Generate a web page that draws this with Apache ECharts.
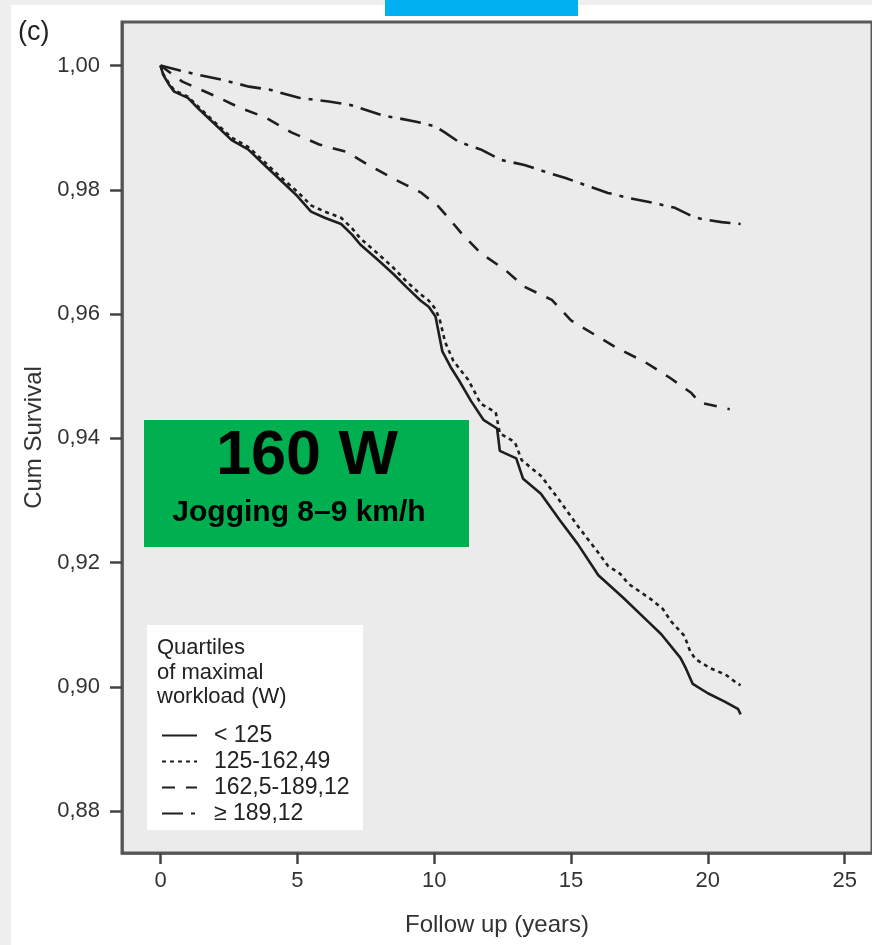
<!DOCTYPE html>
<html>
<head>
<meta charset="utf-8">
<script src="https://cdn.jsdelivr.net/npm/echarts@6/dist/echarts.min.js"></script>
<style>
  html, body { margin: 0; padding: 0; background: #fff; }
  #chart { width: 872px; height: 945px; }
</style>
</head>
<body>
<div id="chart"></div>
<script>
// Follow-up time (years) and cumulative survival per quartile of maximal workload
var groupNames = ['< 125', '125-162,49', '162,5-189,12', '≥ 189,12'];

var tLow = [0, 0.1, 0.3, 0.5, 1.0, 1.4, 2.0, 2.6, 3.2, 3.8, 4.4, 5.0, 5.5, 6.0, 6.6, 7.0, 7.3, 8.0, 8.5, 9.0, 9.5, 9.8, 10.05, 10.3, 10.6, 10.9, 11.35, 11.8, 12.3, 12.4, 13.0, 13.25, 13.9, 14.6, 15.25, 16.0, 16.9, 17.8, 18.3, 19.0, 19.2, 19.45, 20.0, 20.6, 21.1, 21.2];
var sLow = [1.000, 0.9985, 0.9970, 0.9958, 0.9948, 0.9930, 0.9905, 0.9880, 0.9865, 0.9840, 0.9815, 0.9790, 0.9765, 0.9755, 0.9745, 0.9728, 0.9712, 0.9685, 0.9665, 0.9643, 0.9622, 0.9612, 0.9596, 0.9540, 0.9515, 0.9494, 0.9460, 0.9430, 0.9416, 0.9380, 0.9368, 0.9335, 0.9311, 0.9268, 0.9230, 0.9180, 0.9144, 0.9106, 0.9085, 0.9047, 0.9030, 0.9005, 0.8990, 0.8977, 0.8965, 0.8956];

var tMid1 = [0, 0.1, 0.3, 0.5, 1.0, 1.4, 2.0, 2.6, 3.2, 3.8, 4.4, 5.0, 5.5, 6.0, 6.6, 7.0, 7.3, 8.0, 8.5, 9.0, 9.5, 9.8, 10.05, 10.2, 10.4, 10.7, 11.0, 11.25, 11.7, 12.25, 12.4, 12.95, 13.2, 13.9, 14.5, 15.3, 16.0, 16.35, 16.8, 17.1, 17.9, 18.35, 18.65, 19.15, 19.35, 19.55, 20.1, 20.65, 21.1, 21.2];
var sMid1 = [1.000, 0.9986, 0.9972, 0.9960, 0.9950, 0.9933, 0.9908, 0.9884, 0.9869, 0.9845, 0.9820, 0.9797, 0.9775, 0.9765, 0.9755, 0.9738, 0.9722, 0.9695, 0.9675, 0.9652, 0.9632, 0.9622, 0.9608, 0.9592, 0.9555, 0.9525, 0.9508, 0.9494, 0.9456, 0.9442, 0.9408, 0.9394, 0.9365, 0.9340, 0.9305, 0.9256, 0.9216, 0.9195, 0.9182, 0.9166, 0.9142, 0.9126, 0.9106, 0.9082, 0.9058, 0.9045, 0.9030, 0.9020, 0.9005, 0.9003];

var tMid2 = [0, 0.8, 2.04, 2.9, 3.86, 4.8, 5.8, 6.8, 7.6, 8.6, 9.54, 10.16, 10.5, 11.0, 11.7, 12.6, 13.3, 14.3, 15.0, 15.9, 16.7, 17.7, 18.6, 19.4, 19.7, 20.5, 20.8];
var sMid2 = [1.000, 0.9974, 0.9950, 0.9932, 0.9916, 0.9892, 0.9873, 0.9861, 0.9840, 0.9816, 0.9795, 0.9773, 0.9756, 0.9730, 0.9698, 0.9671, 0.9644, 0.9623, 0.9590, 0.9566, 0.9545, 0.9523, 0.9498, 0.9473, 0.9458, 0.9450, 0.9447];

var tHigh = [0, 1.17, 2.26, 3.24, 4.0, 5.06, 6.15, 6.9, 8.1, 9.3, 10.05, 10.4, 10.9, 11.7, 12.45, 13.3, 14.05, 14.8, 15.5, 16.35, 17.1, 17.9, 18.8, 19.5, 19.9, 20.5, 21.2];
var sHigh = [1.000, 0.9987, 0.9977, 0.9966, 0.9961, 0.9948, 0.9942, 0.9937, 0.9920, 0.9910, 0.9902, 0.9892, 0.9877, 0.9865, 0.9848, 0.9840, 0.9829, 0.9819, 0.9808, 0.9795, 0.9787, 0.9780, 0.9771, 0.9756, 0.9752, 0.9748, 0.9745];

var xTicks = [0, 5, 10, 15, 20, 25];
var yTicks = [0.88, 0.90, 0.92, 0.94, 0.96, 0.98, 1.00];

var font = "'Liberation Sans', Arial, sans-serif";
var ink = '#1e1e1e';

function zip(xs, ys) {
    return xs.map(function (x, i) { return [x, ys[i]]; });
}

var dashes = ['solid', [4, 4], [13, 11], [21, 8, 4, 8]];
var times = [tLow, tMid1, tMid2, tHigh];
var survs = [sLow, sMid1, sMid2, sHigh];

var series = groupNames.map(function (name, i) {
    return {
        name: name,
        type: 'line',
        data: zip(times[i], survs[i]),
        symbol: 'none',
        showSymbol: false,
        lineStyle: { color: ink, width: 2.6, type: dashes[i] },
        itemStyle: { color: ink },
        animation: false
    };
});

var chart = echarts.init(document.getElementById('chart'));

var option = {
    backgroundColor: '#ffffff',
    animation: false,
    grid: {
        left: 122, right: -4, top: 22, bottom: 92,
        show: true, backgroundColor: '#ebebeb',
        borderColor: '#5a5a5a', borderWidth: 3
    },
    xAxis: {
        type: 'value',
        min: -1.407, max: 26.0,
        name: 'Follow up (years)',
        nameLocation: 'middle', nameGap: 60,
        nameTextStyle: { fontFamily: font, fontSize: 24, color: '#333' },
        axisLine: { onZero: false, lineStyle: { color: '#555', width: 2.5 } },
        axisTick: { length: 11, lineStyle: { color: '#444', width: 2.5 }, customValues: xTicks },
        axisLabel: { customValues: xTicks, margin: 17, fontFamily: font, fontSize: 22, color: '#333' },
        splitLine: { show: false }
    },
    yAxis: {
        type: 'value',
        min: 0.8733, max: 1.007,
        name: 'Cum Survival',
        nameLocation: 'middle', nameGap: 74, nameRotate: 90,
        nameTextStyle: { fontFamily: font, fontSize: 24, color: '#333' },
        axisLine: { show: true, onZero: false, lineStyle: { color: '#555', width: 2.5 } },
        axisTick: { show: true, length: 12, lineStyle: { color: '#444', width: 2.5 }, customValues: yTicks },
        axisLabel: {
            customValues: yTicks, margin: 22, fontFamily: font, fontSize: 22, color: '#333',
            formatter: function (v) { return v.toFixed(2).replace('.', ','); }
        },
        splitLine: { show: false }
    },
    legend: {
        orient: 'vertical',
        left: 156, top: 719,
        itemWidth: 35, itemHeight: 14, itemGap: 3,
        data: groupNames,
        itemStyle: { opacity: 0 },
        textStyle: { fontFamily: font, fontSize: 23, color: '#222', lineHeight: 22.5, padding: [0, 0, 0, 12] }
    },
    graphic: [
        { type: 'rect', z: 0, shape: { x: 0, y: 0, width: 872, height: 5 }, style: { fill: '#eeeeee' } },
        { type: 'rect', z: 0, shape: { x: 0, y: 0, width: 11, height: 945 }, style: { fill: '#eeeeee' } },
        { type: 'rect', z: 20, shape: { x: 385, y: 0, width: 193, height: 16 }, style: { fill: '#00b0f0' } },
        { type: 'text', z: 20, style: { x: 18, y: 19, text: '(c)', fontFamily: font, fontSize: 27, fill: '#222' } },
        { type: 'rect', z: 3, shape: { x: 147, y: 625, width: 216, height: 205 }, style: { fill: '#ffffff' } },
        {
            type: 'text', z: 5,
            style: {
                x: 157, y: 636, text: 'Quartiles\nof maximal\nworkload (W)',
                fontFamily: font, fontSize: 22, lineHeight: 24.5, fill: '#222'
            }
        },
        { type: 'rect', z: 10, shape: { x: 144, y: 420, width: 325, height: 127 }, style: { fill: '#00b050' } },
        {
            type: 'text', z: 11,
            style: {
                x: 307, y: 457, text: '160 W', align: 'center', verticalAlign: 'middle',
                fontFamily: font, fontSize: 63, fontWeight: 'bold', fill: '#000'
            }
        },
        {
            type: 'text', z: 11,
            style: {
                x: 299, y: 513, text: 'Jogging 8–9 km/h', align: 'center', verticalAlign: 'middle',
                fontFamily: font, fontSize: 30, fontWeight: 'bold', fill: '#000'
            }
        }
    ],
    series: series
};

chart.setOption(option);
</script>
</body>
</html>
